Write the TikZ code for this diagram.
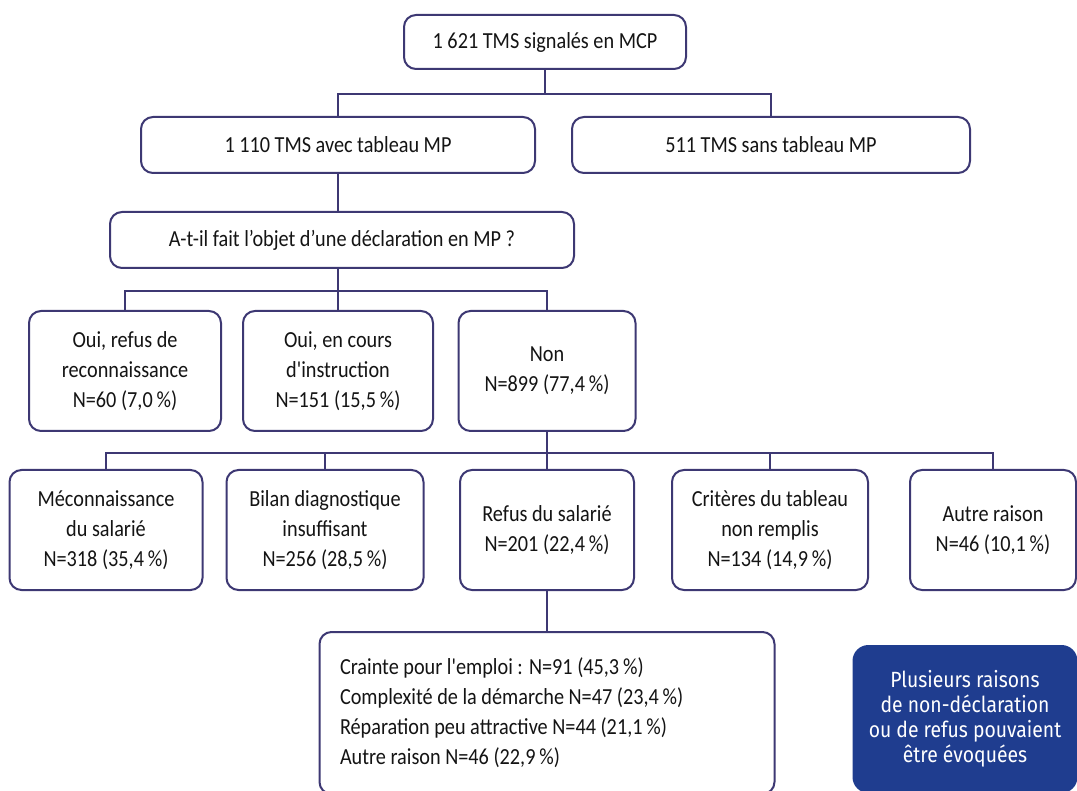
\documentclass[tikz,border=0pt]{standalone}
\usepackage{fontspec}
\setmainfont{Carlito}[FakeStretch=0.88,Ligatures=TeXOff]
\newfontfamily\notefont{Fira Sans}[FakeStretch=0.88]
\usetikzlibrary{positioning}
\definecolor{traitviolet}{rgb}{0.24,0.22,0.45}
\definecolor{bleunuit}{rgb}{0.12,0.24,0.56}
\definecolor{texte}{rgb}{0.08,0.08,0.08}
\tikzset{
  boite/.style={
    rounded corners=12pt,
    draw=traitviolet,
    line width=2pt,
    fill=white,
    align=center,
    inner sep=4pt,
    text=texte,
    font=\fontsize{23}{30}\selectfont
  },
  note/.style={
    rounded corners=16pt,
    fill=bleunuit,
    text=white,
    align=center,
    font=\notefont\fontsize{22}{25}\selectfont
  },
  lien/.style={
    traitviolet,
    line width=2pt
  }
}
\begin{document}
\begin{tikzpicture}[x=1pt,y=-1pt]
\useasboundingbox (0,0) rectangle (1077,791);
\clip (0,0) rectangle (1077,791);
\node[boite,minimum width=282,minimum height=54] (tms) at (545,42) {1 621 TMS signalés en MCP};
\node[boite,minimum width=394,minimum height=56] (avec) at (338,145) {1 110 TMS avec tableau MP};
\node[boite,minimum width=398,minimum height=56] (sans) at (771,145) {511 TMS sans tableau MP};
\node[boite,minimum width=464,minimum height=56] (question) at (342,240) {A-t-il fait l’objet d’une déclaration en MP ?};
% oui / non
\node[boite,minimum width=192,minimum height=120] (refus) at (125,371) {Oui, refus de\\reconnaissance\\N=60 (7,0\,\%)};
\node[boite,minimum width=190,minimum height=120] (cours) at (338,371) {Oui, en cours\\d'instruction\\N=151 (15,5\,\%)};
\node[boite,minimum width=177,minimum height=120] (non) at (547,371) {Non\\N=899 (77,4\,\%)};
% raisons
\node[boite,minimum width=193,minimum height=120] (mecon) at (106,530) {Méconnaissance\\du salarié\\N=318 (35,4\,\%)};
\node[boite,minimum width=197,minimum height=120] (bilan) at (325,530) {Bilan diagnostique\\insuffisant\\N=256 (28,5\,\%)};
\node[boite,minimum width=174,minimum height=120] (salarie) at (547,530) {Refus du salarié\\N=201 (22,4\,\%)};
\node[boite,minimum width=196,minimum height=120] (criteres) at (770,530) {Critères du tableau\\non remplis\\N=134 (14,9\,\%)};
\node[boite,minimum width=166,minimum height=120] (autre) at (993,530) {Autre raison\\N=46 (10,1\,\%)};
\node[boite,minimum width=455,minimum height=162,text width=414,align=flush left] (detail) at (547,713) {Crainte pour l'emploi : N=91 (45,3\,\%)\\Complexité de la démarche N=47 (23,4\,\%)\\Réparation peu attractive N=44 (21,1\,\%)\\Autre raison N=46 (22,9\,\%)};
\node[note,minimum width=225,minimum height=148] (remarque) at (965,719) {Plusieurs raisons\\de non-déclaration\\ou de refus pouvaient\\être évoquées};
% liens
\draw[lien] (tms.south) -- ++(0,24) -| (avec.north);
\draw[lien] (tms.south) -- ++(0,24) -| (sans.north);
\draw[lien] (avec.south) -- (avec.south |- question.north);
\coordinate (q) at (avec.south |- question.south);
\draw[lien] (q) -- ++(0,22) -| (refus.north);
\draw[lien] (q) -- (cours.north);
\draw[lien] (q) -- ++(0,22) -| (non.north);
\foreach \r in {mecon,bilan,salarie,criteres,autre}
  \draw[lien] (non.south) -- ++(0,21) -| (\r.north);
\draw[lien] (salarie.south) -- (detail.north);
\end{tikzpicture}
\end{document}
